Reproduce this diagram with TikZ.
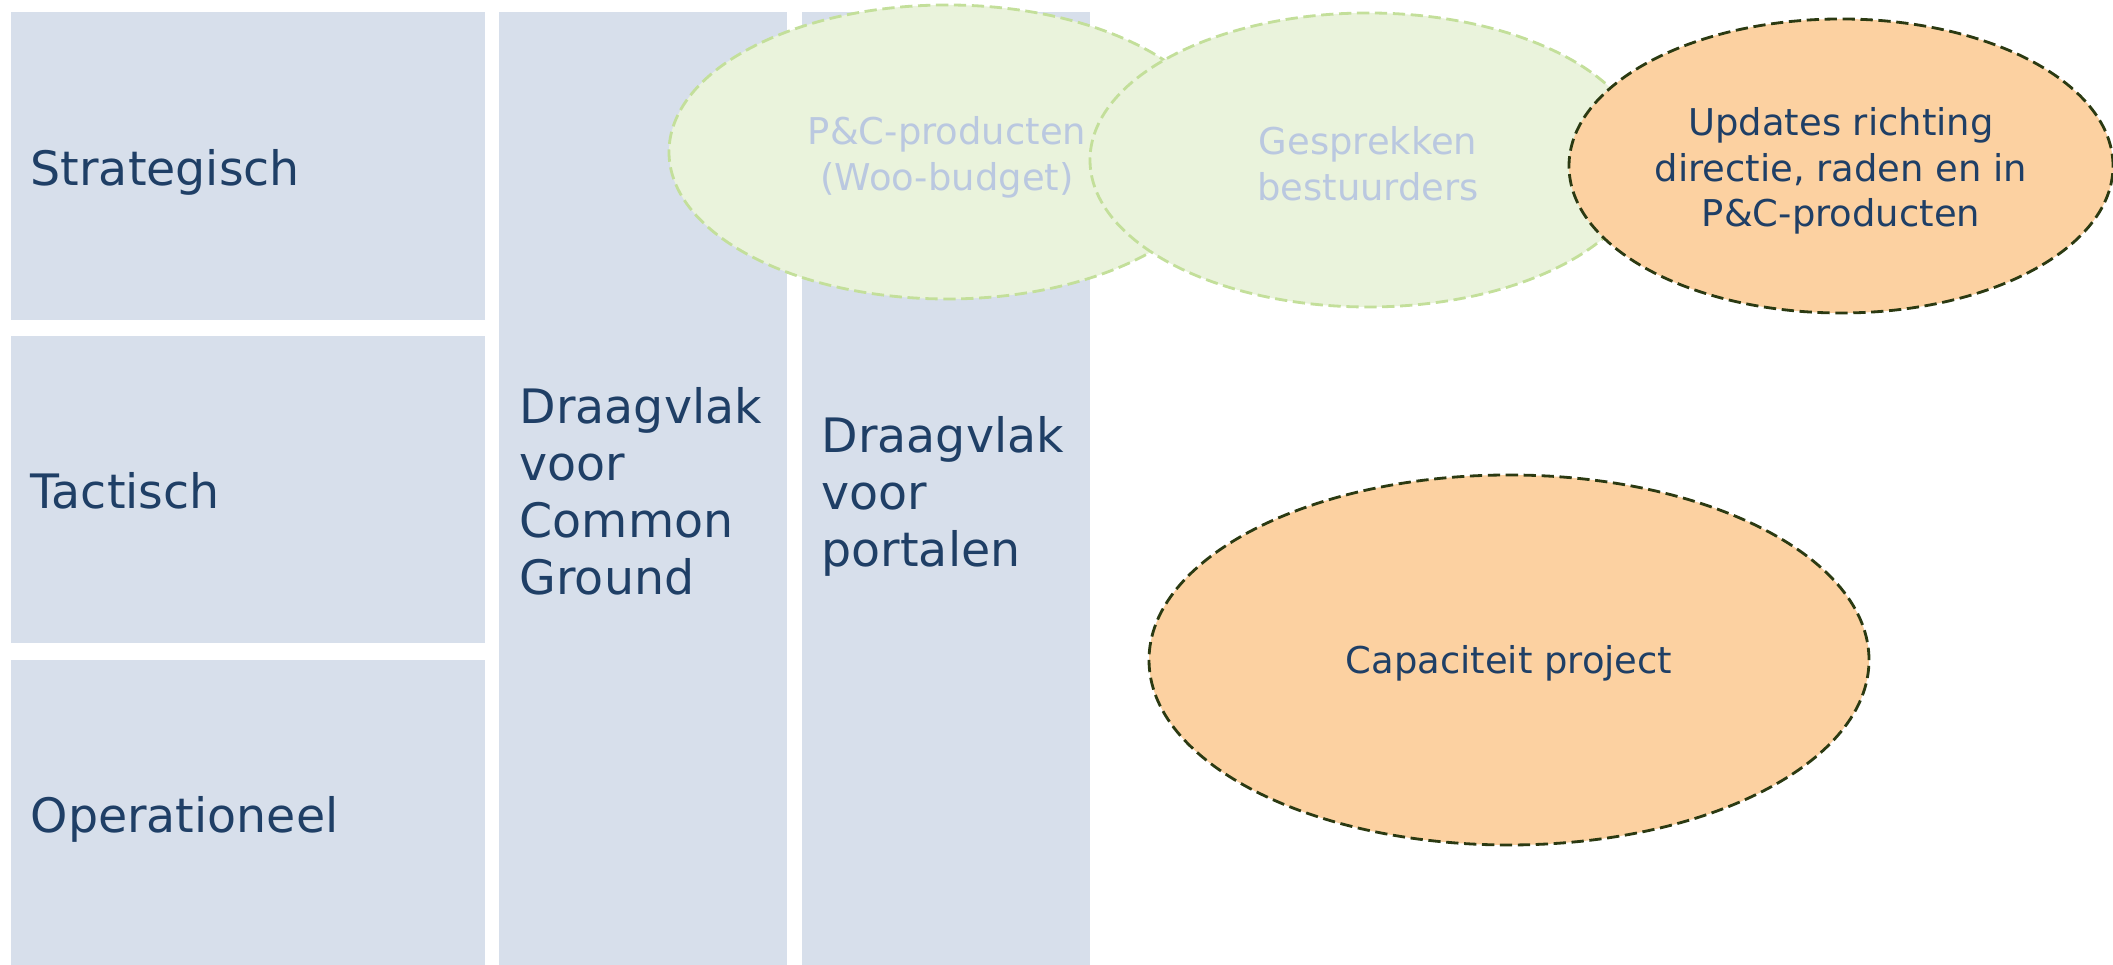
\documentclass[tikz,border=0pt]{standalone}
\usepackage{fontspec}
\setmainfont{DejaVu Sans}
\usetikzlibrary{shapes.geometric}
\definecolor{vlak}{HTML}{D7DFEB}
\definecolor{tekst}{HTML}{1F3F66}
\definecolor{groen}{HTML}{EAF3DC}
\definecolor{groenrand}{HTML}{C3DF9A}
\definecolor{vaag}{HTML}{BAC8E0}
\definecolor{oranje}{HTML}{FCD1A1}
\definecolor{oranjerand}{HTML}{2B3A12}

\begin{document}
\begin{tikzpicture}[
    laag/.style={anchor=base west, text=tekst, inner sep=0pt,
      font=\fontsize{13.5}{16.2}\selectfont},
    kolom/.style={anchor=west, text=tekst, align=left, inner sep=0pt,
      font=\fontsize{13.5}{16.2}\selectfont},
    wolk/.style={ellipse, inner sep=0pt, line width=0.8pt,
      dash pattern=on 3.5pt off 1.6pt},
    groenewolk/.style={wolk, fill=groen, draw=groenrand},
    oranjewolk/.style={wolk, fill=oranje, draw=oranjerand},
    wolktekst/.style={align=center, inner sep=0pt, font=\fontsize{10.5}{13}\selectfont}]
      \useasboundingbox (0,0) rectangle (21.13,9.65);
      %lagen links
      \fill[vlak] (0.11,6.45) rectangle (4.85,9.53);
      \fill[vlak] (0.11,3.22) rectangle (4.85,6.29);
      \fill[vlak] (0.11,0) rectangle (4.85,3.05);
      \node[laag] (strategisch) at (0.30,7.79){Strategisch};
      \node[laag] (tactisch) at (0.30,4.56){Tactisch};
      \node[laag] (operationeel) at (0.30,1.32){Operationeel};
      %draagvlak kolommen
      \fill[vlak] (4.99,0) rectangle (7.87,9.53);
      \fill[vlak] (8.02,0) rectangle (10.90,9.53);
      \node[kolom] (commonground) at (5.19,4.74){Draagvlak\\voor\\Common\\Ground};
      \node[kolom] (portalen) at (8.21,4.69){Draagvlak\\voor\\portalen};
      %wolken
      \node[groenewolk, minimum width=5.56cm, minimum height=2.94cm] (pc) at (9.47,8.13){};
      \node[wolktekst, text=vaag] (pctekst) at ([yshift=-0.05cm]pc.center){P\&C-producten\\(Woo-budget)};
      \node[groenewolk, minimum width=5.56cm, minimum height=2.94cm] (gesprekken) at (13.68,8.05){};
      \node[wolktekst, text=vaag] (gesprekkentekst) at ([yshift=-0.04cm]gesprekken.center){Gesprekken\\bestuurders};
      \node[oranjewolk, minimum width=5.44cm, minimum height=2.94cm] (updates) at (18.41,7.99){};
      \node[wolktekst, text=tekst] (updatestekst) at ([yshift=-0.05cm]updates.center){Updates richting\\directie, raden en in\\P\&C-producten};
      \node[oranjewolk, minimum width=7.20cm, minimum height=3.70cm] (capaciteit) at (15.09,3.05){};
      \node[wolktekst, text=tekst] (capaciteittekst) at ([yshift=-0.03cm]capaciteit.center){Capaciteit project};
\end{tikzpicture}
\end{document}
